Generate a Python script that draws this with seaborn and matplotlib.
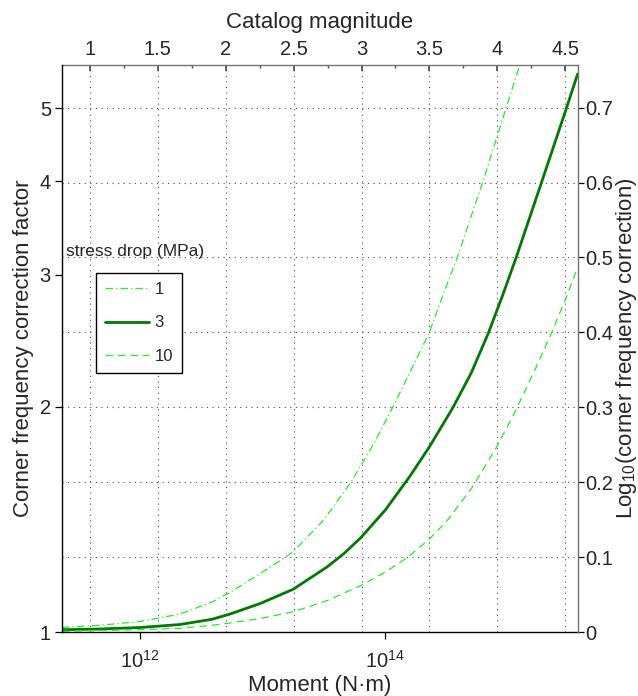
import numpy as np
import pandas as pd
import matplotlib
matplotlib.use("Agg")
import matplotlib.pyplot as plt
import seaborn as sns
from matplotlib.ticker import FixedLocator, FuncFormatter, NullFormatter
from matplotlib.lines import Line2D

# ---------------- data ----------------
# log10 of seismic moment (N·m) and log10 of corner-frequency correction factor
logm_1 = [11.364, 11.674, 12.000, 12.326, 12.587, 12.734, 12.979, 13.185, 13.248,
          13.500, 13.719, 13.900, 14.060, 14.210, 14.358, 14.470, 14.586, 14.792,
          14.985, 15.095]
logcf_1 = [0.006, 0.009, 0.014, 0.024, 0.040, 0.053, 0.078, 0.100, 0.107,
           0.150, 0.200, 0.250, 0.300, 0.350, 0.400, 0.450, 0.500, 0.600,
           0.700, 0.757]

logm_3 = [11.364, 11.674, 12.000, 12.326, 12.587, 12.734, 12.979, 13.248, 13.526,
          13.664, 13.800, 14.000, 14.200, 14.358, 14.552, 14.700, 14.839, 14.950,
          15.064, 15.264, 15.477, 15.567]
logcf_3 = [0.003, 0.004, 0.006, 0.010, 0.017, 0.024, 0.038, 0.057, 0.087,
           0.105, 0.126, 0.163, 0.208, 0.247, 0.300, 0.346, 0.399, 0.447,
           0.499, 0.596, 0.700, 0.745]

logm_10 = [11.364, 11.674, 12.000, 12.326, 12.587, 12.734, 12.979, 13.248, 13.526,
           13.800, 14.000, 14.184, 14.358, 14.500, 14.703, 14.900, 15.060, 15.210,
           15.351, 15.470, 15.567]
logcf_10 = [0.001, 0.002, 0.003, 0.005, 0.009, 0.012, 0.018, 0.027, 0.042,
            0.062, 0.080, 0.100, 0.124, 0.148, 0.192, 0.245, 0.295, 0.347,
            0.398, 0.445, 0.487]

stress_labels = ["1", "3", "10"]
left_ticks = [1, 2, 3, 4, 5]
right_ticks = [0, 0.1, 0.2, 0.3, 0.4, 0.5, 0.6, 0.7]
mag_ticks = [1, 1.5, 2, 2.5, 3, 3.5, 4, 4.5]
mag_minor = [0.75, 1.25, 1.75, 2.25, 2.75, 3.25, 3.75, 4.25]
moment_ticks = [1e12, 1e14]

# catalog magnitude <-> moment relation
MAG_SLOPE = 1.1068
MAG_OFFSET = 10.485
XLIM_LOG = (11.364, 15.57)
YMAX_LOG = 0.757

# ---------------- build table ----------------
frames = []
for lab, lm, lc in zip(stress_labels, [logm_1, logm_3, logm_10],
                       [logcf_1, logcf_3, logcf_10]):
    frames.append(pd.DataFrame({"moment": 10 ** np.array(lm),
                                "factor": 10 ** np.array(lc),
                                "stress": lab}))
df = pd.concat(frames, ignore_index=True)

# ---------------- style ----------------
sns.set_theme(style="white")
plt.rcParams["font.family"] = ["Liberation Sans", "DejaVu Sans"]
plt.rcParams["mathtext.default"] = "regular"

dark = "#007a00"
light = "#22ee22"
palette = {"1": light, "3": dark, "10": light}
dashes = {"1": (6, 2.5, 1, 2.5), "3": "", "10": (6, 4)}
sizes = {"1": 0.9, "3": 2.0, "10": 0.9}

fig = plt.figure(figsize=(6.38, 6.96), dpi=100)
ax = fig.add_axes([62 / 638, 1 - 632 / 696, (578 - 62) / 638, (632 - 65) / 696])

sns.lineplot(data=df, x="moment", y="factor", hue="stress", style="stress",
             size="stress", sizes=sizes, palette=palette, dashes=dashes,
             hue_order=stress_labels, style_order=stress_labels,
             size_order=stress_labels,
             estimator=None, sort=False, legend=False, ax=ax)

ax.set_xscale("log")
ax.set_yscale("log")
ax.set_xlim(10 ** XLIM_LOG[0], 10 ** XLIM_LOG[1])
ax.set_ylim(1, 10 ** YMAX_LOG)


def m2mag(m):
    return (np.log10(np.maximum(m, 1e-300)) - MAG_OFFSET) / MAG_SLOPE


def mag2m(g):
    return 10 ** (MAG_SLOPE * np.asarray(g) + MAG_OFFSET)


# bottom axis
ax.xaxis.set_major_locator(FixedLocator(moment_ticks))
ax.xaxis.set_major_formatter(FuncFormatter(lambda v, p: r"$10^{%d}$" % round(np.log10(v))))
ax.xaxis.set_minor_locator(FixedLocator(mag2m(mag_ticks)))
ax.xaxis.set_minor_formatter(NullFormatter())
# left axis
ax.yaxis.set_major_locator(FixedLocator(left_ticks))
ax.yaxis.set_major_formatter(FuncFormatter(lambda v, p: "%g" % v))
ax.yaxis.set_minor_locator(FixedLocator(10 ** np.array(right_ticks[1:])))
ax.yaxis.set_minor_formatter(NullFormatter())

grid_kw = dict(color="0.3", linestyle=(0, (1, 4)), linewidth=0.8)
ax.grid(False)
ax.grid(which="minor", axis="both", **grid_kw)
ax.tick_params(which="minor", length=0)
ax.tick_params(axis="y", which="major", direction="out", length=5, width=0.9,
               labelsize=14.5, color="black", left=True, pad=3)
ax.tick_params(axis="x", which="major", direction="out", length=5, width=0.9,
               labelsize=14.5, color="black", bottom=True, pad=8)

for s in ["left", "bottom"]:
    ax.spines[s].set_color("black")
    ax.spines[s].set_linewidth(1.0)
ax.spines["top"].set_visible(False)
ax.spines["right"].set_visible(False)

ax.set_xlabel("Moment (N·m)", fontsize=16, labelpad=2)
ax.set_ylabel("Corner frequency correction factor", fontsize=16, labelpad=4)

# top axis (catalog magnitude)
top = ax.secondary_xaxis("top", functions=(m2mag, mag2m))
top.set_xticks(mag_ticks)
top.xaxis.set_major_formatter(FuncFormatter(lambda v, p: "%g" % v))
top.xaxis.set_minor_locator(FixedLocator(mag_minor))
top.xaxis.set_minor_formatter(NullFormatter())
top.tick_params(which="major", direction="in", length=4, labelsize=14.5, pad=4,
                color="0.3")
top.tick_params(which="minor", direction="in", length=2.5, color="0.3")
top.spines["top"].set_color("0.45")
top.spines["top"].set_linewidth(1.0)
top.set_xlabel("Catalog magnitude", fontsize=16, labelpad=9)

# right axis (log10 of correction)
rax = ax.twinx()
rax.set_ylim(0, YMAX_LOG)
rax.set_yticks(right_ticks)
rax.yaxis.set_major_formatter(
    FuncFormatter(lambda v, p: f"{v:.1f}".rstrip("0").rstrip(".")))
rax.tick_params(axis="y", direction="out", length=4, width=0.9, labelsize=14.5,
                color="black", right=True, pad=1.5)
rax.grid(False)
for s in ["left", "top", "bottom"]:
    rax.spines[s].set_visible(False)
rax.spines["right"].set_color("0.45")
rax.spines["right"].set_linewidth(1.0)
rax.set_ylabel("Log$_{10}$(corner frequency correction)", fontsize=16,
               labelpad=0)

# legend
handles = []
for k in stress_labels:
    h = Line2D([], [], color=palette[k], linewidth=sizes[k], linestyle="-")
    if dashes[k]:
        h.set_dashes(dashes[k])
    handles.append(h)
leg = ax.legend(handles, stress_labels, loc="upper left",
                bbox_to_anchor=(96 / 638, 1 - 273 / 696),
                bbox_transform=fig.transFigure, borderaxespad=0,
                fontsize=12, frameon=True, fancybox=False, framealpha=1,
                edgecolor="black", handlelength=2.6, handletextpad=0.35,
                labelspacing=1.1, borderpad=0.55)
leg.get_frame().set_linewidth(1.0)
fig.text(66 / 638, 1 - 252 / 696, "stress drop (MPa)", fontsize=12.5,
         va="center", ha="left")

fig.savefig("out.png", dpi=100)
